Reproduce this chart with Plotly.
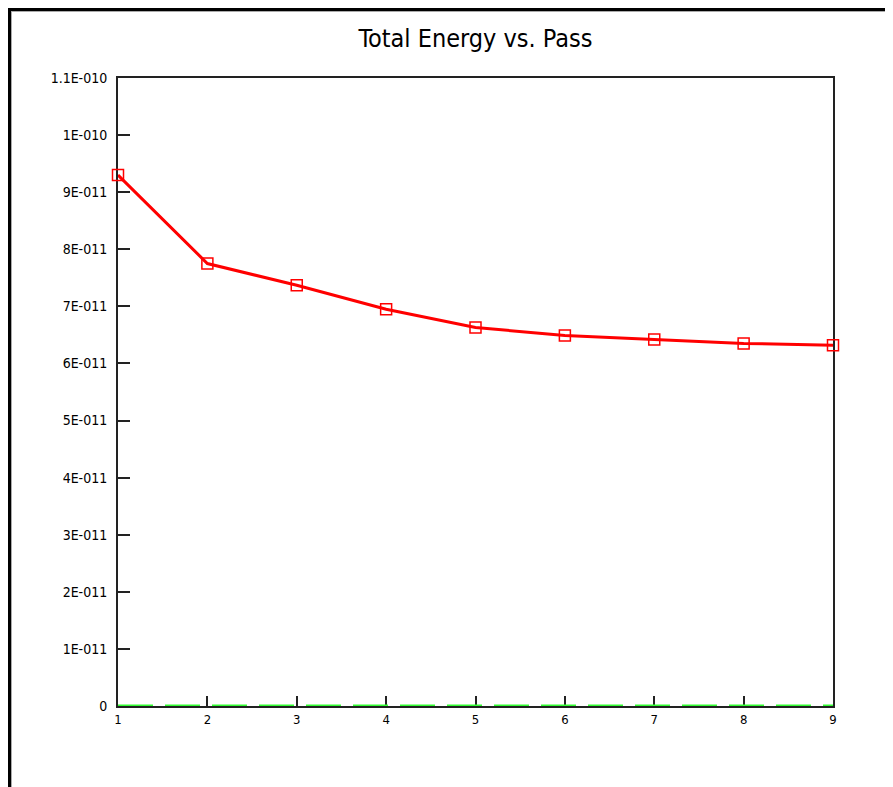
import plotly.graph_objects as go

passes = [1, 2, 3, 4, 5, 6, 7, 8, 9]
total_energy = [9.30e-11, 7.75e-11, 7.37e-11, 6.95e-11, 6.63e-11, 6.49e-11, 6.42e-11, 6.35e-11, 6.32e-11]
zero_line = [0, 0, 0, 0, 0, 0, 0, 0, 0]
y_tick_vals = [0, 1e-11, 2e-11, 3e-11, 4e-11, 5e-11, 6e-11, 7e-11, 8e-11, 9e-11, 1e-10, 1.1e-10]
y_tick_text = ["0", "1E-011", "2E-011", "3E-011", "4E-011", "5E-011", "6E-011", "7E-011",
               "8E-011", "9E-011", "1E-010", "1.1E-010"]
x_tick_vals = passes
x_tick_text = [str(p) for p in passes]

fig = go.Figure()
fig.add_trace(go.Scatter(
    x=passes, y=zero_line, mode="lines",
    line=dict(color="#33ff33", width=3, dash="35px,12px"),
    hoverinfo="skip", cliponaxis=False,
))
fig.add_trace(go.Scatter(
    x=passes, y=total_energy, mode="lines+markers",
    line=dict(color="#ff0000", width=3),
    marker=dict(symbol="square-open", size=11, color="#ff0000", line=dict(width=1.5)),
    cliponaxis=False,
))

font_family = "DejaVu Sans Condensed, Liberation Sans Narrow, Arial Narrow, sans-serif"

L, T, PW, PH = 110, 70, 715, 628
fig.update_layout(
    width=893, height=787,
    margin=dict(l=L, r=893 - L - PW, t=T, b=787 - T - PH),
    paper_bgcolor="white", plot_bgcolor="white",
    showlegend=False,
    title=dict(text="Total Energy vs. Pass", x=(L + PW / 2) / 893, xanchor="center",
               y=1 - 30 / 787, yanchor="middle",
               font=dict(family=font_family, size=25, color="black")),
    font=dict(family=font_family, size=13, color="black"),
    xaxis=dict(range=[1, 9], tickvals=x_tick_vals, ticktext=x_tick_text,
               showgrid=False, zeroline=False, showline=True, linecolor="#222222",
               linewidth=2, mirror=True, ticks="inside", ticklen=10, tickwidth=1.5,
               tickcolor="#222222", tickfont=dict(size=13), layer="below traces"),
    yaxis=dict(range=[0, 1.1e-10], tickvals=y_tick_vals, ticktext=y_tick_text,
               showgrid=False, zeroline=False, showline=True, linecolor="#222222",
               linewidth=2, mirror=True, ticks="inside", ticklen=12, tickwidth=1.5,
               tickcolor="#222222", tickfont=dict(size=14), ticklabelstandoff=6,
               layer="below traces"),
    shapes=[
        # outer window frame (black outer edge, grey inner edge) on the top and left
        dict(type="line", xref="paper", yref="paper",
             x0=-L / PW, x1=(893 - L) / PW,
             y0=1 + (T - 1.5) / PH, y1=1 + (T - 1.5) / PH,
             line=dict(color="black", width=3)),
        dict(type="line", xref="paper", yref="paper",
             x0=-(L - 1.5) / PW, x1=-(L - 1.5) / PW,
             y0=1 + T / PH, y1=-(787 - T - PH) / PH,
             line=dict(color="black", width=3)),
        dict(type="line", xref="paper", yref="paper",
             x0=-(L - 3.5) / PW, x1=-(L - 3.5) / PW,
             y0=1 + (T - 3) / PH, y1=-(787 - T - PH) / PH,
             line=dict(color="#aaaaaa", width=1)),
        dict(type="line", xref="paper", yref="paper",
             x0=-(L - 3) / PW, x1=(893 - L) / PW,
             y0=1 + (T - 3.5) / PH, y1=1 + (T - 3.5) / PH,
             line=dict(color="#aaaaaa", width=1)),
    ],
)

fig.write_html("out.html")
